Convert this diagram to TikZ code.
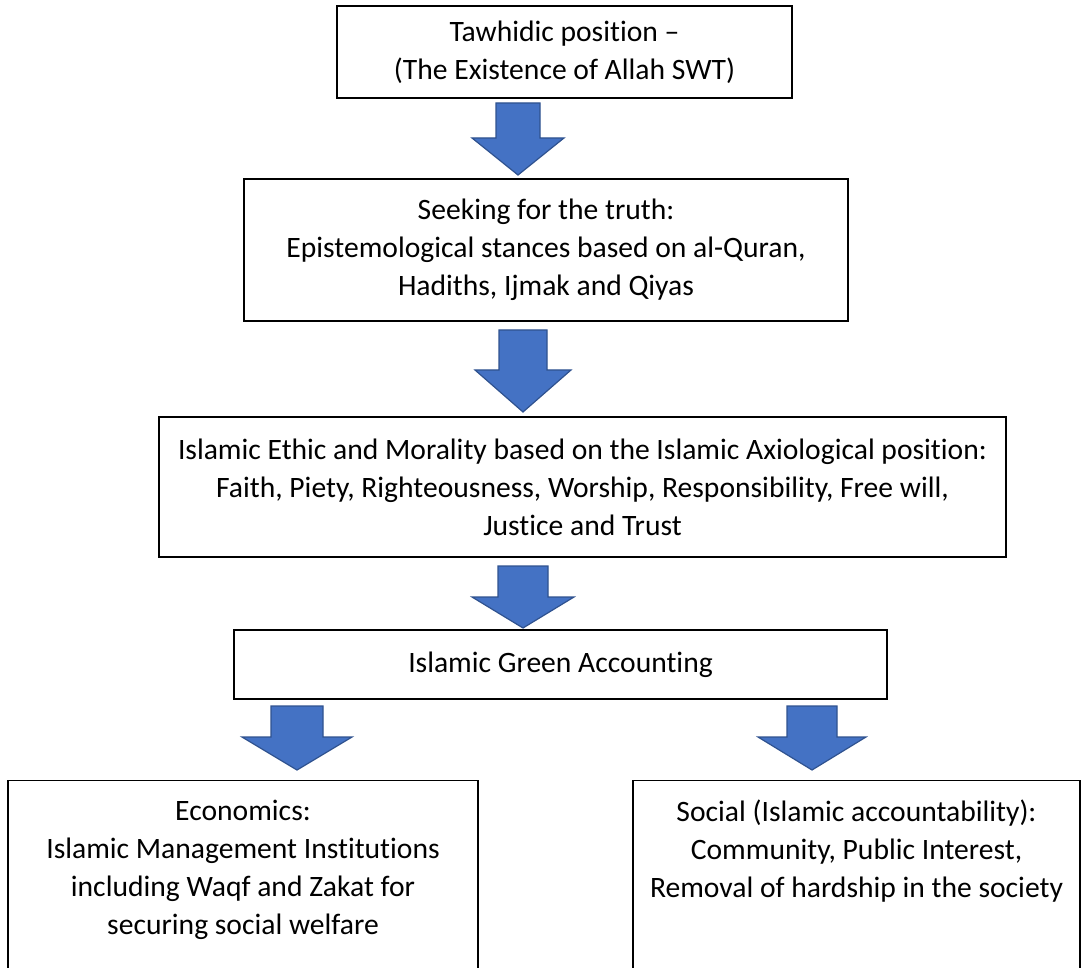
\documentclass[tikz,border=0pt]{standalone}
\usepackage{fontspec}
\setmainfont[Ligatures={TeX,NoCommon}]{Carlito}
\usepackage{tikz}
\usetikzlibrary{positioning}

\definecolor{arrowfill}{HTML}{4472C4}
\definecolor{arrowline}{HTML}{2F528F}

% block arrow pointing down: x, top, head y, tip y, half shaft, half head
\newcommand{\blockdown}[6]{%
  \draw[block arrow] ({#1-#5},#2) -- ({#1+#5},#2) -- ({#1+#5},#3) -- ({#1+#6},#3)
    -- (#1,#4) -- ({#1-#6},#3) -- ({#1-#5},#3) -- cycle;}

\begin{document}
\begin{tikzpicture}[x=0.5pt,y=-0.5pt,
  main box/.style={draw,line width=0.7pt,align=center,inner sep=0pt,
    font=\fontsize{14.8}{19}\selectfont},
  block arrow/.style={fill=arrowfill,draw=arrowline,line width=0.6pt,line join=miter}]

  \clip (0,0) rectangle (1082,968);

  \node[main box,minimum width=227.5pt,minimum height=46pt] (tawhid) at (564.5,52)
    {Tawhidic position –\\(The Existence of Allah SWT)};
  \node[main box,minimum width=302pt,minimum height=71pt] (truth) at (546,250)
    {Seeking for the truth:\\Epistemological stances based on al-Quran,\\Hadiths, Ijmak and Qiyas};
  \node[main box,minimum width=423.5pt,minimum height=70pt] (ethic) at (582.5,487)
    {Islamic Ethic and Morality based on the Islamic Axiological position:\\
     Faith, Piety, Righteousness, Worship, Responsibility, Free will,\\Justice and Trust};
  \node[main box,minimum width=326.5pt,minimum height=34.5pt] (green) at (560.5,664.5)
    {Islamic Green Accounting};
  \node[main box,anchor=north,minimum width=235pt,inner ysep=9.5pt,text depth=60pt] (econ) at (243,780)
    {Economics:\\Islamic Management Institutions\\including Waqf and Zakat for\\securing social welfare};
  \node[main box,anchor=north,minimum width=223.5pt,inner ysep=9.5pt,text depth=60pt] (social) at (856.5,780)
    {Social (Islamic accountability):\\Community, Public Interest,\\Removal of hardship in the society};

  \blockdown{518}{103}{138}{175}{22}{46}
  \blockdown{523}{330}{370}{412}{24}{48}
  \blockdown{523}{566}{597}{628}{25}{51}
  \blockdown{297}{706}{737}{770}{26}{55}
  \blockdown{812}{706}{737}{770}{25}{54}

\end{tikzpicture}
\end{document}
